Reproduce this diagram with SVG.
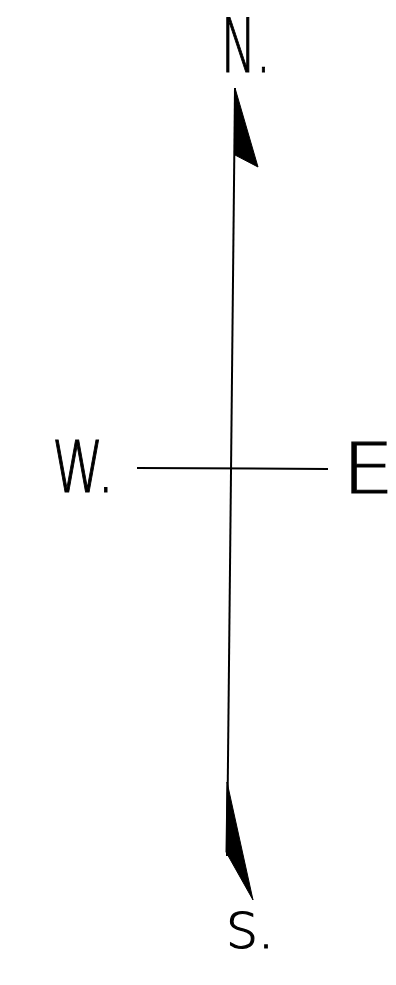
<svg xmlns="http://www.w3.org/2000/svg" width="396" height="985" viewBox="0 0 396 985">
<style>
.lbl{font-family:"DejaVu Sans","Liberation Sans",sans-serif;font-weight:200;fill:#000;stroke:#000;stroke-width:1.2}
.ln{stroke:#000;stroke-width:2;fill:none}
.hd{fill:#000;stroke:#000;stroke-width:1;stroke-linejoin:round}
</style>
<rect width="396" height="985" fill="#fff"/>
<g id="connectors">
<line class="ln" x1="235" y1="88" x2="227" y2="856"/>
<line class="ln" x1="137" y1="468" x2="328" y2="469"/>
<polygon class="hd" points="235,88 258,167 235,155"/>
<polygon class="hd" points="227,782 253,900 226,852"/>
</g>
<g id="north"><text class="lbl" x="221" y="72" font-size="74" textLength="50" lengthAdjust="spacingAndGlyphs">N.</text></g>
<g id="west"><text class="lbl" x="52" y="492" font-size="72" textLength="62" lengthAdjust="spacingAndGlyphs">W.</text></g>
<g id="east"><text class="lbl" x="342" y="493" font-size="70" textLength="52" lengthAdjust="spacingAndGlyphs">E</text></g>
<g id="south"><text class="lbl" x="226" y="948" font-size="49" textLength="48" lengthAdjust="spacingAndGlyphs">S.</text></g>
</svg>
